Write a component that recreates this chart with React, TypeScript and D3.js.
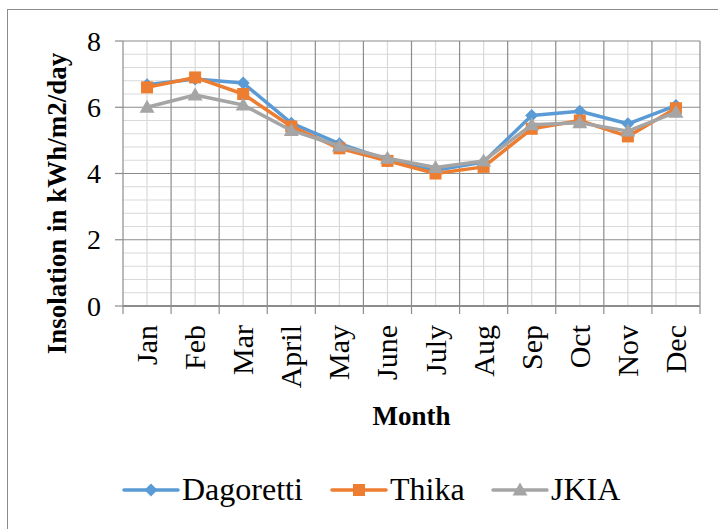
import React, { useEffect, useRef } from 'react';
import * as d3 from 'd3';

const months = ['Jan', 'Feb', 'Mar', 'April', 'May', 'June', 'July', 'Aug', 'Sep', 'Oct', 'Nov', 'Dec'];
const dagoretti = [6.68, 6.85, 6.73, 5.52, 4.9, 4.42, 4.1, 4.35, 5.75, 5.88, 5.5, 6.05];
const thika = [6.6, 6.9, 6.4, 5.42, 4.76, 4.38, 4.0, 4.2, 5.35, 5.6, 5.12, 5.97];
const jkia = [6.0, 6.37, 6.07, 5.3, 4.83, 4.46, 4.18, 4.38, 5.47, 5.53, 5.28, 5.85];
const yTicks = [0, 2, 4, 6, 8];

const series = [
  { name: 'Dagoretti', values: dagoretti, color: '#5B9BD5', marker: 'diamond' },
  { name: 'Thika', values: thika, color: '#ED7D31', marker: 'square' },
  { name: 'JKIA', values: jkia, color: '#A5A5A5', marker: 'triangle' },
];

const W = 718;
const H = 529;
const FONT = "'Liberation Serif', 'Times New Roman', Times, 'Nimbus Roman', 'Noto Serif', FreeSerif, 'DejaVu Serif', Georgia, serif";

export default function App() {
  const svgRef = useRef<SVGSVGElement>(null);

  useEffect(() => {
    if (!svgRef.current) return;
    const svg = d3.select(svgRef.current);
    svg.selectAll('*').remove();

    const left = 123, right = 700, top = 41, bottom = 306;

    const x = d3.scaleBand<string>().domain(months).range([left, right]).padding(0);
    const y = d3.scaleLinear().domain([0, 8]).range([bottom, top]);
    const cx = (m: string) => (x(m) as number) + x.bandwidth() / 2;

    // outer chart border
    svg.append('rect')
      .attr('x', 7.5).attr('y', 9.5)
      .attr('width', 730).attr('height', 540)
      .attr('fill', 'white').attr('stroke', '#8c8c8c').attr('stroke-width', 1);

    // minor horizontal gridlines
    const minor = d3.range(0, 8.01, 0.4).filter(v => Math.abs(v / 2 - Math.round(v / 2)) > 0.01);
    svg.append('g').selectAll('line').data(minor).join('line')
      .attr('x1', left).attr('x2', right)
      .attr('y1', d => y(d)).attr('y2', d => y(d))
      .attr('stroke', '#d9d9d9').attr('stroke-width', 1.2);

    // minor vertical gridlines (category centres)
    svg.append('g').selectAll('line').data(months).join('line')
      .attr('x1', d => cx(d)).attr('x2', d => cx(d))
      .attr('y1', top).attr('y2', bottom)
      .attr('stroke', '#d9d9d9').attr('stroke-width', 1.2);

    // major horizontal gridlines
    svg.append('g').selectAll('line').data(yTicks.filter(d => d > 0)).join('line')
      .attr('x1', left).attr('x2', right)
      .attr('y1', d => y(d)).attr('y2', d => y(d))
      .attr('stroke', '#8c8c8c').attr('stroke-width', 1.2);

    // major vertical gridlines (category boundaries) + ticks below axis
    const bounds = months.map(m => x(m) as number).concat([right]);
    svg.append('g').selectAll('line').data(bounds).join('line')
      .attr('x1', d => d).attr('x2', d => d)
      .attr('y1', top).attr('y2', bottom + 8)
      .attr('stroke', '#8c8c8c').attr('stroke-width', 1.2);

    // x axis line
    svg.append('line')
      .attr('x1', left).attr('x2', right)
      .attr('y1', bottom).attr('y2', bottom)
      .attr('stroke', '#8c8c8c').attr('stroke-width', 2);

    // y ticks
    svg.append('g').selectAll('line').data(yTicks).join('line')
      .attr('x1', left - 8).attr('x2', left)
      .attr('y1', d => y(d)).attr('y2', d => y(d))
      .attr('stroke', '#8c8c8c').attr('stroke-width', 1.2);

    svg.append('g').selectAll('text').data(yTicks).join('text')
      .attr('x', 101).attr('y', d => y(d) + 9.5)
      .attr('text-anchor', 'end')
      .style('font-family', FONT).style('font-size', '28px')
      .text(d => d);

    // month labels
    svg.append('g').selectAll('text').data(months).join('text')
      .attr('transform', d => `translate(${cx(d) + 10},325) rotate(-90)`)
      .attr('text-anchor', 'end')
      .style('font-family', FONT).style('font-size', '30px')
      .text(d => d);

    // axis titles
    svg.append('text')
      .attr('x', (left + right) / 2).attr('y', 425)
      .attr('text-anchor', 'middle')
      .style('font-family', FONT).style('font-size', '27px').style('font-weight', 'bold')
      .text('Month');

    svg.append('text')
      .attr('transform', `translate(66,${(50 + 357) / 2}) rotate(-90)`)
      .attr('text-anchor', 'middle')
      .style('font-family', FONT).style('font-size', '27px').style('font-weight', 'bold')
      .text('Insolation in kWh/m2/day');

    const drawMarker = (g: d3.Selection<SVGGElement, unknown, null, undefined>, type: string, px: number, py: number, color: string) => {
      if (type === 'diamond') {
        g.append('path').attr('d', `M${px},${py - 6.5}L${px + 6.5},${py}L${px},${py + 6.5}L${px - 6.5},${py}Z`).attr('fill', color);
      } else if (type === 'square') {
        g.append('rect').attr('x', px - 6).attr('y', py - 6).attr('width', 12).attr('height', 12).attr('fill', color);
      } else {
        g.append('path').attr('d', `M${px},${py - 7.5}L${px + 7.5},${py + 5.5}L${px - 7.5},${py + 5.5}Z`).attr('fill', color);
      }
    };

    const line = d3.line<number>().x((_, i) => cx(months[i])).y(d => y(d));

    series.forEach(s => {
      const g = svg.append('g');
      g.append('path').datum(s.values)
        .attr('d', line)
        .attr('fill', 'none').attr('stroke', s.color)
        .attr('stroke-width', 3.5).attr('stroke-linejoin', 'round');
      s.values.forEach((v, i) => drawMarker(g, s.marker, cx(months[i]), y(v), s.color));
    });

    // legend
    const legendX = [124, 332, 493];
    series.forEach((s, i) => {
      const g = svg.append('g');
      const lx = legendX[i];
      g.append('line')
        .attr('x1', lx).attr('x2', lx + 54)
        .attr('y1', 490).attr('y2', 490)
        .attr('stroke', s.color).attr('stroke-width', 3.5).attr('stroke-linecap', 'round');
      drawMarker(g, s.marker, lx + 27, 490, s.color);
      g.append('text')
        .attr('x', lx + 58).attr('y', 500)
        .style('font-family', FONT).style('font-size', '32px')
        .text(s.name);
    });
  }, []);

  return (
    <svg
      ref={svgRef}
      width={W}
      height={H}
      style={{ position: 'absolute', left: 0, top: 0, background: 'white' }}
    />
  );
}
